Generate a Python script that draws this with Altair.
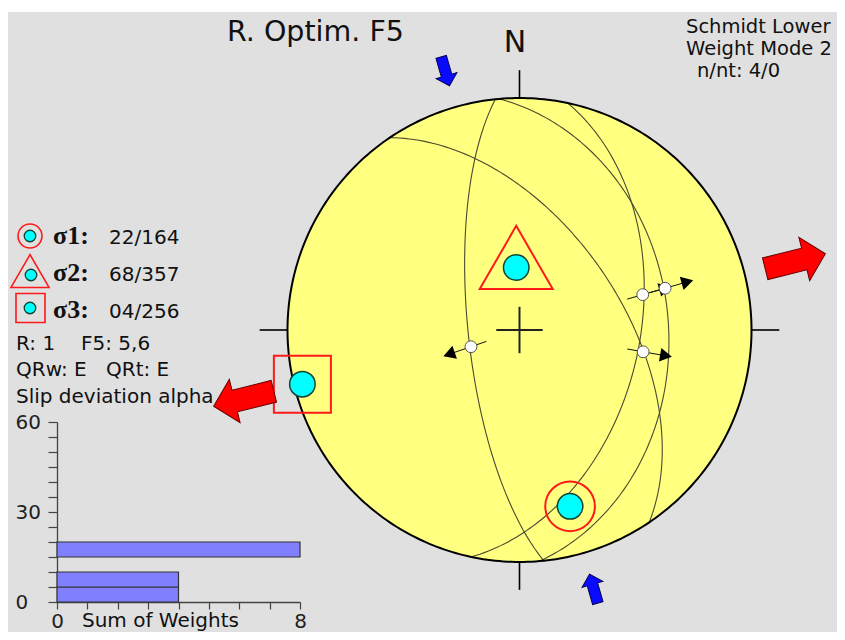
import numpy as np
import pandas as pd
import altair as alt

# ---------------- data ----------------
# fault planes (dip direction / dip, degrees)
plane_dipdir = [264, 56, 102, 85]
plane_dip = [72, 54, 47, 36]
# slip lineations on those planes (trend / plunge)
lin_trend = [251, 100, 74, 74]
lin_plunge = [72, 45, 44, 35]

# principal stress axes
sigma_labels = ["σ1:", "σ2:", "σ3:"]
sigma_plunge = [22, 68, 4]
sigma_trend = [164, 357, 256]
sigma_text = ["22/164", "68/357", "04/256"]

# slip deviation histogram
hist_lo = [0, 5, 15]
hist_hi = [5, 10, 20]
hist_weight = [4, 4, 8]

cardinal_dirs = [0, 90, 180, 270]

# ---------------- helpers ----------------
def schmidt(trend, plunge):
    t = np.radians(np.asarray(trend, float))
    r = np.sqrt(2) * np.sin(np.radians(90 - np.asarray(plunge, float)) / 2)
    return r * np.sin(t), r * np.cos(t)

W, H = 829, 620
CX, CY, R = 511.5, 318.0, 232.0
xs = alt.Scale(domain=[-CX / R, (W - CX) / R], nice=False, zero=False)
ys = alt.Scale(domain=[-(H - CY) / R, CY / R], nice=False, zero=False)
X = alt.X("x:Q", scale=xs, axis=None)
Y = alt.Y("y:Q", scale=ys, axis=None)

def px(v):
    return alt.value(v - 8)

def py(v):
    return alt.value(v - 12)

one = pd.DataFrame({"a": [0]})

def text(t, x, y, size=20, font="DejaVu Sans", align="left", weight="normal"):
    return alt.Chart(pd.DataFrame({"t": [t]})).mark_text(
        align=align, baseline="alphabetic", fontSize=size, font=font,
        fontWeight=weight, color="#111"
    ).encode(x=px(x), y=py(y), text="t:N")

def glyph(x, y, **kw):
    return alt.Chart(one).mark_point(opacity=1, **kw).encode(x=px(x), y=py(y))

# ---------------- stereonet ----------------
th = np.linspace(0, np.pi, 181)
prim_fill = pd.DataFrame({"x": np.cos(th), "y": np.sin(th), "y2": -np.sin(th)})
fill_layer = alt.Chart(prim_fill).mark_area(color="#ffff80", opacity=1).encode(
    x=X, y=Y, y2="y2:Q")

deg = np.arange(0, 361)
outline = pd.DataFrame({"x": np.sin(np.radians(deg)), "y": np.cos(np.radians(deg)), "i": deg})
outline_layer = alt.Chart(outline).mark_line(color="black", strokeWidth=2).encode(
    x=X, y=Y, order="i:Q")

cd = np.radians(cardinal_dirs)
ticks = pd.DataFrame({"x": np.sin(cd), "y": np.cos(cd),
                      "x2": 1.12 * np.sin(cd), "y2": 1.12 * np.cos(cd)})
tick_layer = alt.Chart(ticks).mark_rule(color="black", strokeWidth=1.6).encode(
    x=X, y=Y, x2="x2:Q", y2="y2:Q")

cross = pd.DataFrame({"x": [-0.1, 0.0], "y": [0.0, -0.1], "x2": [0.1, 0.0], "y2": [0.0, 0.1]})
cross_layer = alt.Chart(cross).mark_rule(color="#222", strokeWidth=2).encode(
    x=X, y=Y, x2="x2:Q", y2="y2:Q")

rows = []
for k, (dd, dip) in enumerate(zip(plane_dipdir, plane_dip)):
    ts = np.arange(dd - 90, dd + 90.5, 1.0)
    ps = np.degrees(np.arctan(np.tan(np.radians(dip)) * np.cos(np.radians(ts - dd))))
    gx, gy = schmidt(ts, ps)
    for i, (a, b) in enumerate(zip(gx, gy)):
        rows.append({"plane": k, "i": i, "x": a, "y": b})
gc = pd.DataFrame(rows)
gc_layer = alt.Chart(gc).mark_line(color="#4a4a30", strokeWidth=1.1).encode(
    x=X, y=Y, detail="plane:N", order="i:Q")

lx, ly = schmidt(lin_trend, lin_plunge)
ux, uy = np.sin(np.radians(lin_trend)), np.cos(np.radians(lin_trend))
shaft = pd.DataFrame({"x": lx - 0.07 * ux, "y": ly - 0.07 * uy,
                      "x2": lx + 0.085 * ux, "y2": ly + 0.085 * uy})
shaft_layer = alt.Chart(shaft).mark_rule(color="#111", strokeWidth=1).encode(
    x=X, y=Y, x2="x2:Q", y2="y2:Q")
heads = pd.DataFrame({"x": lx + 0.1 * ux, "y": ly + 0.1 * uy, "ang": lin_trend})
head_layer = alt.Chart(heads).mark_point(
    shape="triangle-up", filled=True, color="black", size=190, opacity=1
).encode(x=X, y=Y, angle=alt.Angle("ang:Q", scale=None))
dots = pd.DataFrame({"x": lx, "y": ly})
dot_layer = alt.Chart(dots).mark_point(
    filled=True, fill="white", stroke="#555", strokeWidth=1, size=140, opacity=1
).encode(x=X, y=Y)

sx, sy = schmidt(sigma_trend, sigma_plunge)
sig = pd.DataFrame({"x": sx, "y": sy, "name": sigma_labels})
cyan_layer = alt.Chart(sig).mark_point(
    shape="circle", filled=True, fill="#00ffff", stroke="#114433", strokeWidth=1.5,
    size=650, opacity=1).encode(x=X, y=Y)
ring_layer = alt.Chart(sig.iloc[[0]]).mark_point(
    shape="circle", filled=False, stroke="#ff1a1a", strokeWidth=2, size=2463, opacity=1
).encode(x=X, y=Y)
tri_layer = alt.Chart(sig.iloc[[1]]).mark_point(
    shape="triangle-up", filled=False, stroke="#ff1a1a", strokeWidth=2, size=5329,
    opacity=1, yOffset=-10).encode(x=X, y=Y)
sq_layer = alt.Chart(sig.iloc[[2]]).mark_point(
    shape="square", filled=False, stroke="#ff1a1a", strokeWidth=2, size=3249, opacity=1
).encode(x=X, y=Y)

# big stress arrows: sigma1 inward (blue), sigma3 outward (red)
arrow_path = "M0,-1L0.72,-0.3L0.36,-0.3L0.36,1L-0.36,1L-0.36,-0.3L-0.72,-0.3Z"
az1 = np.array([sigma_trend[0] + 180, sigma_trend[0]]) % 360
az3 = np.array([sigma_trend[2], sigma_trend[2] + 180]) % 360
blue = pd.DataFrame({"x": 1.16 * np.sin(np.radians(az1)), "y": 1.16 * np.cos(np.radians(az1)),
                     "ang": (az1 + 180) % 360})
red = pd.DataFrame({"x": 1.225 * np.sin(np.radians(az3)), "y": 1.225 * np.cos(np.radians(az3)),
                    "ang": az3})
blue_layer = alt.Chart(blue).mark_point(
    shape=arrow_path, filled=True, fill="#0a0aff", stroke="#000055", strokeWidth=1,
    size=900, opacity=1).encode(x=X, y=Y, angle=alt.Angle("ang:Q", scale=None))
red_layer = alt.Chart(red).mark_point(
    shape=arrow_path, filled=True, fill="#ff0000", stroke="#660000", strokeWidth=1,
    size=3844, opacity=1).encode(x=X, y=Y, angle=alt.Angle("ang:Q", scale=None))

# ---------------- texts & legend ----------------
texts = [
    text("R. Optim. F5", 227, 41, size=28.5),
    text("N", 515, 52, size=30, align="center"),
    text("Schmidt Lower", 686, 33, size=19.5),
    text("Weight Mode 2", 686, 55, size=19.5),
    text("n/nt: 4/0", 697, 77, size=19.5),
    text("R: 1", 16, 350),
    text("F5: 5,6", 81, 350),
    text("QRw: E", 16, 376),
    text("QRt: E", 106, 376),
    text("Slip deviation alpha", 16, 403),
    text("Sum of Weights", 82, 627),
]
for i, (lab, val) in enumerate(zip(sigma_labels, sigma_text)):
    base = 244 + 37 * i
    texts.append(text(lab, 53, base, size=26, font="Liberation Serif", weight="bold"))
    texts.append(text(val, 109, base, size=20))

legend = [
    glyph(30, 236, shape="circle", filled=False, stroke="#ff1a1a", strokeWidth=1.6, size=573),
    glyph(30, 236, shape="circle", filled=True, fill="#00ffff", stroke="#114433", strokeWidth=1.3, size=133),
    glyph(30, 271, shape="triangle-up", filled=False, stroke="#ff1a1a", strokeWidth=1.6, size=1444),
    glyph(31, 275, shape="circle", filled=True, fill="#00ffff", stroke="#114433", strokeWidth=1.3, size=133),
    glyph(30.5, 308, shape="square", filled=False, stroke="#ff1a1a", strokeWidth=1.6, size=841),
    glyph(30, 308, shape="circle", filled=True, fill="#00ffff", stroke="#114433", strokeWidth=1.3, size=133),
]

stereo = alt.layer(
    *texts, fill_layer, gc_layer, outline_layer, tick_layer, cross_layer,
    shaft_layer, head_layer, dot_layer, cyan_layer, ring_layer, tri_layer, sq_layer,
    *legend, blue_layer, red_layer
)

# ---------------- histogram ----------------
hist_df = pd.DataFrame({"lo": hist_lo, "hi": hist_hi, "w": hist_weight, "zero": [0] * len(hist_lo)})
hx = alt.Scale(domain=[0, 8], range=[49, 292], nice=False, zero=False)
hy = alt.Scale(domain=[0, 60], range=[590, 410], nice=False, zero=False)
hist = alt.Chart(hist_df).mark_rect(fill="#8080ff", stroke="#333", strokeWidth=1.2).encode(
    x=alt.X("zero:Q", scale=hx, axis=alt.Axis(
        orient="bottom", offset=-(H - 590), values=list(range(9)), tickSize=7,
        labelExpr="datum.value == 0 || datum.value == 8 ? datum.label : ''",
        labelFontSize=20, labelFont="DejaVu Sans", labelColor="#222", labelPadding=18,
        labelBaseline="alphabetic", labelFlush=False, labelOverlap=False,
        domainColor="#444", tickColor="#444", domainWidth=1.3, tickWidth=1.2,
        title=None, grid=False)),
    x2="w:Q",
    y=alt.Y("lo:Q", scale=hy, axis=alt.Axis(
        orient="left", offset=-49, values=list(range(0, 61, 5)), tickSize=9,
        labelExpr="datum.value % 30 == 0 ? datum.label : ''",
        labelFontSize=20, labelFont="DejaVu Sans", labelColor="#222", labelPadding=33,
        labelAlign="left", labelBaseline="middle", labelFlush=False, labelOverlap=False,
        domainColor="#444", tickColor="#444", domainWidth=1.3, tickWidth=1.2,
        title=None, grid=False)),
    y2="hi:Q",
)

chart = alt.layer(stereo, hist).resolve_scale(x="independent", y="independent").properties(
    width=W, height=H,
    autosize=alt.AutoSizeParams(type="none"),
    padding={"left": 0, "top": 4, "right": 0, "bottom": 0},
    background="white",
).configure_view(fill="#e0e0e0", stroke=None)

chart.save("out.html", embed_options={"renderer": "svg", "actions": False})
